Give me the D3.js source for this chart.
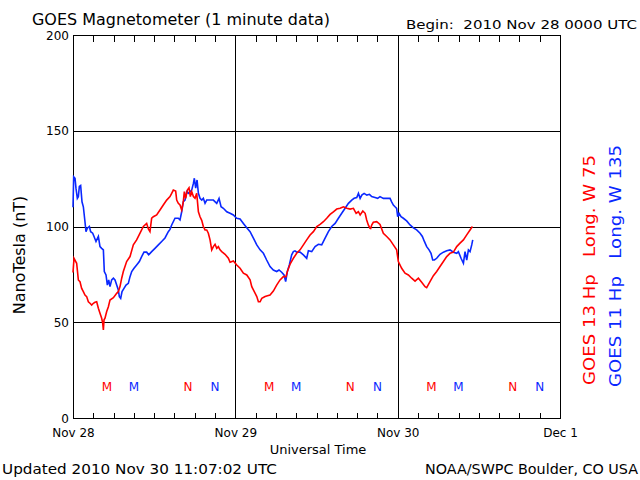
<!DOCTYPE html>
<html><head><meta charset="utf-8">
<script src="https://cdn.jsdelivr.net/npm/d3@7"></script>
<style>
html,body{margin:0;padding:0;background:#fff;}
svg text{font-family:"DejaVu Sans",sans-serif;white-space:pre;}
</style></head>
<body>
<svg id="chart" width="640" height="480"></svg>
<script>
// ---- data (hours since 2010 Nov 28 00:00 UTC, nT) ----
const goes13Hours = [0,0.15,0.54,0.79,1.03,1.28,1.53,1.77,2.02,2.27,2.51,2.76,3.01,3.25,3.50,3.75,3.99,4.24,4.39,4.49,4.59,4.73,4.98,5.23,5.47,5.97,6.46,6.70,6.95,7.20,7.44,7.93,8.43,8.92,9.41,9.91,10.40,10.89,11.14,11.38,11.63,11.88,12.37,12.86,13.35,13.85,14.34,14.59,14.83,15.18,15.33,15.57,15.82,16.07,16.31,16.46,16.66,16.91,17.15,17.35,17.55,17.80,18.04,18.29,18.54,18.78,19.03,19.27,19.52,19.77,20.01,20.26,20.51,20.75,21.00,21.25,21.49,21.74,21.99,22.48,22.97,23.22,23.71,24.21,24.70,25.19,25.69,26.18,26.43,26.67,27.17,27.41,27.66,27.91,28.40,28.63,29.13,29.62,30.11,30.61,31.10,31.49,31.69,32.09,32.58,33.07,33.57,34.06,34.55,35.05,35.54,36.04,36.53,37.02,37.51,38.01,38.50,38.99,39.49,39.98,40.48,40.97,41.46,41.86,42.20,42.45,42.85,43.19,43.42,43.66,43.91,44.01,44.16,44.40,44.90,45.39,45.88,46.38,46.87,47.36,47.85,48.10,48.59,49.09,49.58,50.07,50.57,51.06,51.55,52.05,52.29,52.78,53.28,53.77,54.26,54.76,55.25,55.74,56.24,56.73,57.22,57.72,58.21,58.70,59.05];
const goes13Values = [76,83.4,80.8,72.1,71.2,67.7,66.0,64.2,63.4,60.7,59.9,59.0,59.9,60.4,60.7,57.3,54.7,52.1,49.5,46.0,51.3,52.1,55.6,58.1,61.6,62.8,65.1,66.0,68.6,73.0,76.5,81.7,84.3,90.4,93.0,96.5,100.0,101.6,98.7,97.3,104.3,105.1,106.0,108.6,111.2,113.8,115.6,117.3,119.0,118.5,113.8,112.1,111.2,108.6,113.0,118.2,114.7,119.0,120.2,115.6,118.2,115.6,114.7,117.3,107.7,105.1,103.2,100.0,98.2,98.2,96.5,93.0,87.8,89.5,90.7,88.6,89.5,87.8,86.9,85.5,83.4,81.3,82.0,79.9,78.2,75.6,74.7,72.1,68.6,66.9,63.4,60.7,60.7,62.5,63.4,63.7,64.2,66.3,69.4,72.1,73.8,73.8,76.5,80.3,83.4,86.0,87.8,90.4,93.0,95.6,97.3,100.0,101.1,102.5,104.3,106.3,107.7,109.1,109.5,110.3,109.5,109.1,109.5,106.9,107.7,106.0,108.1,106.9,103.4,100.8,99.1,99.0,100.8,102.2,102.5,101.1,96.5,94.8,93.0,90.4,87.8,81.7,78.2,75.6,74.7,73.0,71.5,73.0,70.9,68.6,68.1,71.2,74.3,76.5,79.1,81.7,84.3,86.0,86.6,89.5,91.3,93.0,95.6,98.2,100.0];

const goes11Hours = [0,0.1,0.30,0.44,0.64,0.79,0.94,1.13,1.33,1.53,1.77,1.92,2.12,2.42,2.61,2.91,3.11,3.40,3.75,3.99,4.24,4.49,4.63,4.88,5.08,5.28,5.47,5.72,5.97,6.21,6.46,6.70,6.85,7.05,7.25,7.54,7.84,8.18,8.43,8.68,9.02,9.41,9.81,10.15,10.50,10.89,11.19,11.63,12.12,12.62,13.11,13.60,14.09,14.34,14.59,15.08,15.57,15.82,16.07,16.31,16.56,16.81,17.05,17.30,17.55,17.80,17.94,18.14,18.34,18.54,18.78,19.03,19.27,19.52,19.77,20.26,20.75,21.25,21.59,21.89,22.23,22.73,23.22,23.71,23.96,24.21,24.70,25.19,25.69,26.18,26.67,27.17,27.66,28.15,28.63,29.13,29.62,30.11,30.46,30.85,31.20,31.44,31.69,31.98,32.33,32.58,32.82,33.07,33.57,34.06,34.55,34.80,35.29,35.79,36.28,36.77,37.27,37.76,38.25,38.75,39.24,39.73,40.23,40.72,41.21,41.56,41.95,42.20,42.45,42.70,43.04,43.44,43.83,44.16,44.65,45.04,45.39,45.88,46.38,46.87,47.11,47.36,47.61,47.85,48.00,48.20,48.50,48.84,49.33,49.83,50.32,50.81,51.31,51.65,51.95,52.29,52.64,52.93,53.18,53.43,53.77,54.26,54.76,55.25,55.74,56.24,56.73,56.98,57.37,57.72,57.96,58.21,58.46,58.70,58.95,59.10];
const goes11Values = [110,126,125.2,120.0,114.7,115.6,120.9,121.4,112.9,110.3,102.5,97.3,99.1,100.0,97.3,96.5,94.8,92.2,94.8,89.5,88.6,87.8,76.5,74.7,69.4,72.1,68.6,72.1,73.0,72.1,69.4,66.9,63.4,62.5,66.0,67.7,69.4,70.3,73.8,76.5,78.2,79.9,81.7,84.3,86.6,86.6,85.2,86.9,88.6,90.4,92.2,94.0,97.3,98.5,100.8,104.3,104.3,103.4,107.7,113.0,113.8,118.2,117.3,118.2,119.0,122.5,125.2,120.0,124.3,117.3,114.7,113.8,114.7,112.1,113.8,113.8,113.8,112.1,114.7,110.3,109.5,107.7,106.9,106.0,105.1,104.3,103.9,101.6,99.3,97.3,93.9,90.4,87.8,86.0,82.5,79.1,77.3,76.5,77.3,76.1,74.7,71.2,76.5,79.9,85.2,86.9,87.3,86.6,86.6,85.2,83.4,87.3,86.9,89.5,90.7,90.4,93.9,97.3,100.0,101.6,104.3,106.9,109.5,112.1,113.8,114.7,115.1,117.3,114.7,116.4,117.3,116.4,116.8,115.6,115.1,114.7,115.6,114.7,114.7,114.7,112.9,111.2,110.3,109.5,105.1,106.9,105.1,104.3,102.9,100.8,99.3,98.2,96.5,94.8,92.2,89.5,87.8,86.0,82.5,82.5,83.4,85.5,86.6,87.3,87.8,86.6,86.0,86.9,83.4,80.8,86.9,82.5,87.8,86.9,90.4,93.0];

const dayLabels = ["Nov 28","Nov 29","Nov 30","Dec 1"];
const dayHours = [0,24,48,72];
const yTickValues = [0,50,100,150,200];
// local midnight (M) and noon (N) markers, hours UTC
const markerLetters = ["M","M","N","N"];
const markerHourOfDay = [5,9,17,21];
const markerSeries = ["goes13","goes11","goes13","goes11"];

const RED = "#ff0000", BLUE = "#0a28ff";
const svg = d3.select("#chart");
const L = 73, R = 560, T = 35, B = 418;
const x = d3.scaleLinear().domain([0,72]).range([L,R]);
const y = d3.scaleLinear().domain([0,200]).range([B,T]);

// gridlines
const g = svg.append("g").attr("shape-rendering","crispEdges");
g.selectAll(".hg").data([50,100,150]).enter().append("line")
  .attr("x1",L).attr("x2",R).attr("y1",d=>Math.round(y(d))+0.5).attr("y2",d=>Math.round(y(d))+0.5)
  .attr("stroke","#000").attr("stroke-width",1);
g.selectAll(".vg").data([24,48]).enter().append("line")
  .attr("y1",T).attr("y2",B).attr("x1",d=>Math.round(x(d))+0.5).attr("x2",d=>Math.round(x(d))+0.5)
  .attr("stroke","#000").attr("stroke-width",1);

// minor ticks (3-hourly) top and bottom, inward
const minor = d3.range(0,73,3);
const axB = d3.axisBottom(x).tickValues(minor).tickSize(-6).tickFormat("");
const axT = d3.axisTop(x).tickValues(minor).tickSize(-6).tickFormat("");
const gb = svg.append("g").attr("transform",`translate(0,${B+0.5})`).call(axB);
const gt = svg.append("g").attr("transform",`translate(0,${T+0.5})`).call(axT);
[gb,gt].forEach(a=>{a.select(".domain").remove(); a.selectAll("line").attr("stroke","#000").attr("shape-rendering","crispEdges");});

// frame
svg.append("rect").attr("x",L+0.5).attr("y",T+0.5).attr("width",R-L).attr("height",B-T)
  .attr("fill","none").attr("stroke","#000").attr("stroke-width",1).attr("shape-rendering","crispEdges");

// y labels
const ay = d3.axisLeft(y).tickValues(yTickValues).tickSize(0).tickPadding(4);
const gy = svg.append("g").attr("transform",`translate(${L},0)`).call(ay);
gy.select(".domain").remove();
gy.selectAll("text").attr("font-family","DejaVu Sans").attr("font-size",12).attr("fill","#000").attr("dy","0.35em");

// x labels
const ax = d3.axisBottom(x).tickValues(dayHours).tickSize(0).tickPadding(10).tickFormat((d,i)=>dayLabels[i]);
const gx = svg.append("g").attr("transform",`translate(0,${B})`).call(ax);
gx.select(".domain").remove();
gx.selectAll("text").attr("font-family","DejaVu Sans").attr("font-size",12).attr("fill","#000");

// series
const line = d3.line().x(d=>x(d[0])).y(d=>y(d[1]));
const s13 = goes13Hours.map((h,i)=>[h,goes13Values[i]]);
const s11 = goes11Hours.map((h,i)=>[h,goes11Values[i]]);
svg.append("path").datum(s11).attr("d",line).attr("fill","none").attr("stroke",BLUE).attr("stroke-width",1.6);
svg.append("path").datum(s13).attr("d",line).attr("fill","none").attr("stroke",RED).attr("stroke-width",1.6);

// M / N markers
const marks = [];
[0,24,48].forEach(d0=>markerLetters.forEach((m,i)=>marks.push({h:d0+markerHourOfDay[i],t:m,s:markerSeries[i]})));
svg.selectAll(".mk").data(marks).enter().append("text")
  .attr("x",d=>x(d.h)).attr("y",391).attr("text-anchor","middle")
  .attr("font-size",12).attr("fill",d=>d.s==="goes13"?RED:BLUE).text(d=>d.t);

// titles
svg.append("text").attr("x",32).attr("y",25).attr("font-size",15)
  .attr("textLength",298).attr("lengthAdjust","spacingAndGlyphs").text("GOES Magnetometer (1 minute data)");
svg.append("text").attr("x",406).attr("y",29).attr("font-size",13)
  .attr("textLength",231).attr("lengthAdjust","spacingAndGlyphs").text("Begin:  2010 Nov 28 0000 UTC");
svg.append("text").attr("x",318).attr("y",454).attr("font-size",13).attr("text-anchor","middle").text("Universal Time");
svg.append("text").attr("x",2).attr("y",474).attr("font-size",14)
  .attr("textLength",275).attr("lengthAdjust","spacingAndGlyphs").text("Updated 2010 Nov 30 11:07:02 UTC");
svg.append("text").attr("x",425).attr("y",474).attr("font-size",14)
  .attr("textLength",213).attr("lengthAdjust","spacingAndGlyphs").text("NOAA/SWPC Boulder, CO USA");
svg.append("text").attr("transform","translate(25,255) rotate(-90)").attr("text-anchor","middle")
  .attr("font-size",16).text("NanoTesla (nT)");

// right-side legends
svg.append("text").attr("transform","translate(595,385) rotate(-90)").attr("font-size",16).attr("fill",RED)
  .attr("textLength",230).attr("lengthAdjust","spacingAndGlyphs").text("GOES 13 Hp   Long. W 75");
svg.append("text").attr("transform","translate(621,387) rotate(-90)").attr("font-size",16).attr("fill",BLUE)
  .attr("textLength",242).attr("lengthAdjust","spacingAndGlyphs").text("GOES 11 Hp   Long. W 135");
</script>
</body></html>
